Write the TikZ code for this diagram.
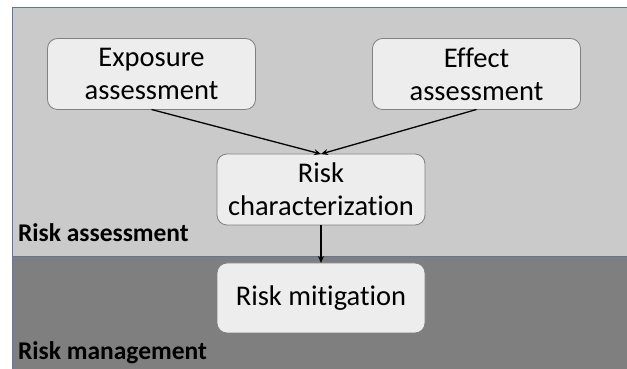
\documentclass[tikz,border=0pt]{standalone}
\usepackage{fontspec}
\setmainfont[Ligatures=NoCommon]{Carlito}
\usetikzlibrary{arrows.meta}
\definecolor{panelhi}{HTML}{CACACA}
\definecolor{panello}{HTML}{7F7F7F}
\definecolor{panelline}{HTML}{5B78A6}
\definecolor{boxfill}{HTML}{EDEDED}
\definecolor{boxline}{HTML}{808080}
\begin{document}
\begin{tikzpicture}[x=1pt,y=1pt,inner sep=0pt,outer sep=0pt,
stepbox/.style={draw=boxline,fill=boxfill,rounded corners=10pt,line width=0.8pt,align=center,minimum width=208pt,minimum height=71pt,font=\fontsize{28.5}{33}\selectfont},
zonelabel/.style={anchor=base west,font=\fontsize{25.5}{30}\selectfont\bfseries},
flow/.style={-{Stealth[length=7pt,width=6pt]},line width=1.3pt}]
\useasboundingbox (0,0) rectangle (627,369);
\fill[panelhi] (12,361) rectangle (627,112);
\fill[panello] (12,112) rectangle (627,0);
\draw[panelline,line width=1pt] (12,0) -- (12,361) -- (627,361);
\draw[panelline,line width=1pt] (12,112) -- (627,112);
\draw (151.5,295) node[stepbox] (expo) {Exposure\\assessment};
\draw (476.5,295) node[stepbox] (effect) {Effect\\assessment};
\draw (321,179.5) node[stepbox] (char) {Risk\\characterization};
\draw (321,71) node[stepbox,minimum height=70pt] (mitig) {Risk mitigation};
\draw (18,127) node[zonelabel] (assess) {Risk assessment};
\draw (18,9) node[zonelabel] (manage) {Risk management};
\draw[flow] (expo.south) -- (char.north);
\draw[flow] (effect.south) -- (char.north);
\draw[flow] (char.south) -- (mitig.north);
\end{tikzpicture}
\end{document}
